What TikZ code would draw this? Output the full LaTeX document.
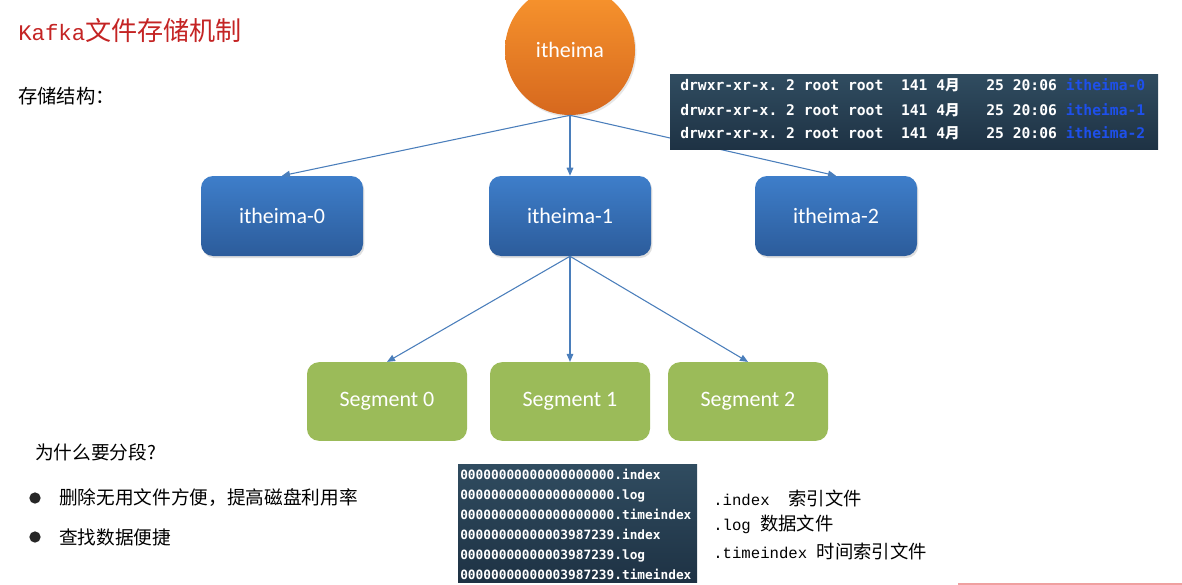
\documentclass[tikz,border=0pt]{standalone}
\usepackage{fontspec}
\setmainfont{Carlito}
\newfontfamily\cjk{Noto Sans CJK SC}
\newfontfamily\mono{DejaVu Sans Mono}
\newfontfamily\lmono{Liberation Mono}
\usetikzlibrary{arrows.meta,shadows}
\definecolor{arrowblue}{RGB}{74,126,187}
\definecolor{boxtop}{RGB}{62,126,202}
\definecolor{boxbot}{RGB}{44,92,155}
\definecolor{segreen}{RGB}{155,187,89}
\definecolor{orgtop}{RGB}{249,150,46}
\definecolor{orgbot}{RGB}{214,104,30}
\definecolor{termtop}{RGB}{48,76,96}
\definecolor{termbot}{RGB}{30,50,68}
\definecolor{titlered}{RGB}{196,36,36}
\definecolor{fileblue}{RGB}{30,80,235}
\definecolor{pinkline}{RGB}{240,160,160}
\tikzset{
  arr/.style={draw=arrowblue, line width=0.8pt, -{Triangle[length=6pt,width=5pt]}},
  topicbox/.style={rounded corners=9pt, top color=boxtop, bottom color=boxbot, draw=none,
    minimum width=121.5pt, minimum height=60pt, text=white, font=\fontsize{16.5}{18}\selectfont,
    drop shadow={opacity=0.25, shadow xshift=1pt, shadow yshift=-1.5pt}},
  segbox/.style={rounded corners=9pt, fill=segreen, draw=none,
    minimum width=120pt, minimum height=59pt, text=white, font=\fontsize{16.5}{18}\selectfont},
  rootcircle/.style={circle, top color=orgtop, bottom color=orgbot, draw=none,
    minimum size=97.5pt, text=white, font=\fontsize{16.5}{18}\selectfont,
    drop shadow={opacity=0.2, shadow xshift=1pt, shadow yshift=-1.5pt}},
  termbox/.style={top color=termtop, bottom color=termbot, draw=none, inner sep=0pt},
  termline/.style={anchor=west, inner sep=0pt, text height=8.5pt, text depth=2.5pt, text=white,
    font=\mono\bfseries\fontsize{11}{13}\selectfont},
  fileline/.style={anchor=west, inner sep=0pt, text height=7.5pt, text depth=2pt, text=white,
    font=\mono\bfseries\fontsize{9.6}{11}\selectfont},
  plain/.style={anchor=west, inner sep=0pt},
  bulletdot/.style={circle, fill=black!85, inner sep=0pt, minimum size=8.5pt},
}
\begin{document}
\begin{tikzpicture}[x=0.75pt, y=-0.75pt]
\useasboundingbox (0,0) rectangle (1182,585);
\clip (0,0) rectangle (1182,585);

% title
\node[plain, text=titlered] (title) at (18,30)
  {{\lmono\fontsize{16.75}{20}\selectfont Kafka}{\cjk\fontsize{19.6}{22}\selectfont 文件存储机制}};
\node[plain] (struct) at (18,96) {\cjk\fontsize{14.5}{17}\selectfont 存储结构：};

% root
\node[rootcircle] (root) at (570,50) {itheima};

% topics
\node[topicbox] (i0) at (282,216) {itheima-0};
\node[topicbox] (i1) at (570,216) {itheima-1};
\node[topicbox] (i2) at (836,216) {itheima-2};

% segments
\node[segbox] (s0) at (387,401.5) {Segment 0};
\node[segbox] (s1) at (570,401.5) {Segment 1};
\node[segbox] (s2) at (748,401.5) {Segment 2};

% connectors
\draw[arr] (root.south) -- (i0.north);
\draw[arr] (root.south) -- (i1.north);
\draw[arr] (root.south) -- (i2.north);
\draw[arr] (i1.south) -- (s0.north);
\draw[arr] (i1.south) -- (s1.north);
\draw[arr] (i1.south) -- (s2.north);

% terminal listing
\node[termbox, minimum width=366pt, minimum height=55.5pt] (term) at (914,112) {};
\node[termline] (t0) at (680,87) {drwxr-xr-x.~2~root~root~~141~4{\cjk 月}~~~25~20:06~\textcolor{fileblue}{itheima-0}};
\node[termline] (t1) at (680,111) {drwxr-xr-x.~2~root~root~~141~4{\cjk 月}~~~25~20:06~\textcolor{fileblue}{itheima-1}};
\node[termline] (t2) at (680,134) {drwxr-xr-x.~2~root~root~~141~4{\cjk 月}~~~25~20:06~\textcolor{fileblue}{itheima-2}};

% file listing
\node[termbox, minimum width=179.25pt, minimum height=88.5pt] (files) at (577.5,523) {};
\node[fileline] (f0) at (460,476) {00000000000000000000.index};
\node[fileline] (f1) at (460,496) {00000000000000000000.log};
\node[fileline] (f2) at (460,516) {00000000000000000000.timeindex};
\node[fileline] (f3) at (460,536) {00000000000003987239.index};
\node[fileline] (f4) at (460,556) {00000000000003987239.log};
\node[fileline] (f5) at (460,576) {00000000000003987239.timeindex};

% explanations
\node[plain] (e0) at (713,498) {{\lmono\fontsize{11.75}{14}\selectfont .index~~}{\cjk\fontsize{13.75}{16}\selectfont 索引文件}};
\node[plain] (e1) at (713,524) {{\lmono\fontsize{11.75}{14}\selectfont .log~}{\cjk\fontsize{13.75}{16}\selectfont 数据文件}};
\node[plain] (e2) at (713,551) {{\lmono\fontsize{11.75}{14}\selectfont .timeindex~}{\cjk\fontsize{13.75}{16}\selectfont 时间索引文件}};

% why segments
\node[plain] (why) at (35,452) {\cjk\fontsize{14}{17}\selectfont 为什么要分段?};
\node[bulletdot] (b0) at (35,498) {};
\node[plain] (r0) at (59,498) {\cjk\fontsize{14}{17}\selectfont 删除无用文件方便，提高磁盘利用率};
\node[bulletdot] (b1) at (35,537) {};
\node[plain] (r1) at (59,537) {\cjk\fontsize{14}{17}\selectfont 查找数据便捷};

% faint line bottom right
\draw[pinkline, line width=1pt] (958,584) -- (1182,584);
\end{tikzpicture}
\end{document}
